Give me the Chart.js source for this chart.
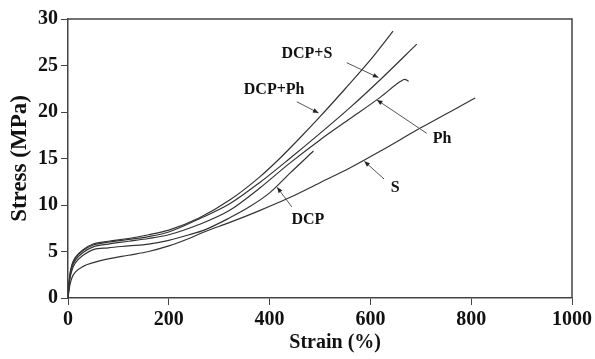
<!DOCTYPE html>
<html>
<head>
<meta charset="utf-8">
<script src="https://cdn.jsdelivr.net/npm/chart.js@4.4.1/dist/chart.umd.min.js"></script>
<style>
  html, body { margin: 0; padding: 0; background: #fff; }
  #wrap { width: 595px; height: 359px; }
</style>
</head>
<body>
<div id="wrap"><canvas id="myChart"></canvas></div>
<script>
// series names
const seriesNames = ["DCP+Ph", "DCP+S", "Ph", "DCP", "S"];

// strain (%) / stress (MPa)
const dcpPhX = [0, 3, 8, 15, 30, 50, 80, 120, 160, 200, 260, 320, 380, 420, 460, 500, 550, 600, 645];
const dcpPhY = [0, 2.2, 3.6, 4.4, 5.2, 5.8, 6.1, 6.4, 6.8, 7.3, 8.6, 10.5, 13.0, 15.0, 17.2, 19.5, 22.5, 25.6, 28.7];

const dcpSX = [0, 3, 8, 15, 30, 50, 80, 120, 160, 200, 260, 320, 380, 440, 500, 560, 620, 692];
const dcpSY = [0, 2.1, 3.5, 4.3, 5.1, 5.7, 6.0, 6.3, 6.6, 7.1, 8.5, 10.1, 12.4, 15.0, 17.7, 20.5, 23.5, 27.3];

const phX = [0, 3, 8, 15, 30, 50, 80, 120, 160, 200, 260, 320, 380, 440, 500, 560, 620, 660, 668, 676];
const phY = [0, 2.0, 3.3, 4.1, 4.9, 5.5, 5.8, 6.1, 6.4, 6.8, 7.9, 9.4, 11.8, 14.5, 17.0, 19.3, 21.6, 23.3, 23.5, 23.3];

const dcpX = [0, 3, 8, 15, 30, 50, 80, 120, 160, 200, 240, 270, 320, 360, 400, 440, 487];
const dcpY = [0, 1.8, 3.0, 3.8, 4.6, 5.2, 5.4, 5.6, 5.8, 6.2, 6.8, 7.3, 8.6, 9.8, 11.3, 13.4, 15.8];

const sX = [0, 3, 8, 15, 30, 50, 80, 120, 160, 200, 240, 270, 320, 380, 440, 500, 560, 620, 700, 808];
const sY = [0, 1.2, 2.2, 2.8, 3.4, 3.8, 4.2, 4.6, 5.0, 5.6, 6.4, 7.1, 8.1, 9.4, 10.8, 12.4, 14.0, 15.8, 18.3, 21.5];

const xTicks = [0, 200, 400, 600, 800, 1000];
const yTicks = [0, 5, 10, 15, 20, 25, 30];

// labels with arrows, in data units: text at (tx,ty), arrow from (ax,ay) to (bx,by)
const notes = [
  { text: "DCP+S",  tx: 474, ty: 26.3, ax: 553, ay: 25.3, bx: 616, by: 23.7 },
  { text: "DCP+Ph", tx: 409, ty: 22.4, ax: 454, ay: 21.1, bx: 497, by: 19.9 },
  { text: "Ph",     tx: 742, ty: 17.1, ax: 712, ay: 17.7, bx: 613, by: 21.3 },
  { text: "S",      tx: 649, ty: 11.8, ax: 627, ay: 12.8, bx: 588, by: 14.7 },
  { text: "DCP",    tx: 476, ty: 8.4,  ax: 444, ay: 9.8,  bx: 415, by: 11.9 }
];

const xs = [dcpPhX, dcpSX, phX, dcpX, sX];
const ys = [dcpPhY, dcpSY, phY, dcpY, sY];

const serif = "'Liberation Serif', 'Times New Roman', serif";
const ink = "#333";

const notesPlugin = {
  id: "notes",
  afterDatasetsDraw(chart) {
    const c = chart.ctx;
    const sx = chart.scales.x, sy = chart.scales.y;
    const area = chart.chartArea;
    c.save();
    // frame
    c.strokeStyle = "#444";
    c.lineWidth = 1.5;
    c.beginPath();
    c.moveTo(area.left, area.top);
    c.lineTo(area.right, area.top);
    c.lineTo(area.right, area.bottom);
    c.stroke();

    c.font = "bold 16px " + serif;
    c.textAlign = "center";
    c.textBaseline = "middle";
    notes.forEach(n => {
      c.fillStyle = "#111";
      c.fillText(n.text, sx.getPixelForValue(n.tx), sy.getPixelForValue(n.ty));
      const x1 = sx.getPixelForValue(n.ax), y1 = sy.getPixelForValue(n.ay);
      const x2 = sx.getPixelForValue(n.bx), y2 = sy.getPixelForValue(n.by);
      c.strokeStyle = "#555";
      c.lineWidth = 1;
      c.beginPath();
      c.moveTo(x1, y1);
      c.lineTo(x2, y2);
      c.stroke();
      const ang = Math.atan2(y2 - y1, x2 - x1);
      c.fillStyle = "#222";
      c.beginPath();
      c.moveTo(x2, y2);
      c.lineTo(x2 - 6 * Math.cos(ang - 0.4), y2 - 6 * Math.sin(ang - 0.4));
      c.lineTo(x2 - 6 * Math.cos(ang + 0.4), y2 - 6 * Math.sin(ang + 0.4));
      c.closePath();
      c.fill();
    });

    // x axis title
    c.fillStyle = "#111";
    c.font = "bold 20px " + serif;
    c.fillText("Strain (%)", sx.getPixelForValue(530), 343);
    c.restore();
  }
};

new Chart(document.getElementById("myChart"), {
  type: "line",
  data: {
    datasets: seriesNames.map((name, i) => ({
      label: name,
      data: xs[i].map((x, j) => ({ x: x, y: ys[i][j] })),
      borderColor: ink,
      borderWidth: 1.2,
      pointRadius: 0,
      fill: false,
      cubicInterpolationMode: "monotone"
    }))
  },
  options: {
    responsive: true,
    maintainAspectRatio: false,
    animation: false,
    layout: { padding: { top: 19, right: 23, left: 0, bottom: 0 } },
    plugins: { legend: { display: false }, tooltip: { enabled: false } },
    scales: {
      x: {
        type: "linear",
        min: 0,
        max: 1000,
        afterFit: s => { s.height = 61; },
        afterBuildTicks: s => { s.ticks = xTicks.map(v => ({ value: v })); },
        ticks: { font: { family: serif, size: 20, weight: "bold" }, color: "#111", padding: 3, maxRotation: 0, callback: v => String(v) },
        grid: { drawOnChartArea: false, tickLength: 7, color: "#444" },
        border: { color: "#444", width: 1.5 }
      },
      y: {
        type: "linear",
        min: 0,
        max: 30,
        afterFit: s => { s.width = 68; },
        afterBuildTicks: s => { s.ticks = yTicks.map(v => ({ value: v })); },
        ticks: { font: { family: serif, size: 20, weight: "bold" }, color: "#111", padding: 3, callback: v => String(v) },
        grid: { drawOnChartArea: false, tickLength: 7, color: "#444" },
        border: { color: "#444", width: 1.5 },
        title: { display: true, text: "Stress (MPa)", font: { family: serif, size: 23, weight: "bold", lineHeight: 1 }, color: "#111", padding: { top: 9, bottom: 0 } }
      }
    }
  },
  plugins: [notesPlugin]
});
</script>
</body>
</html>
